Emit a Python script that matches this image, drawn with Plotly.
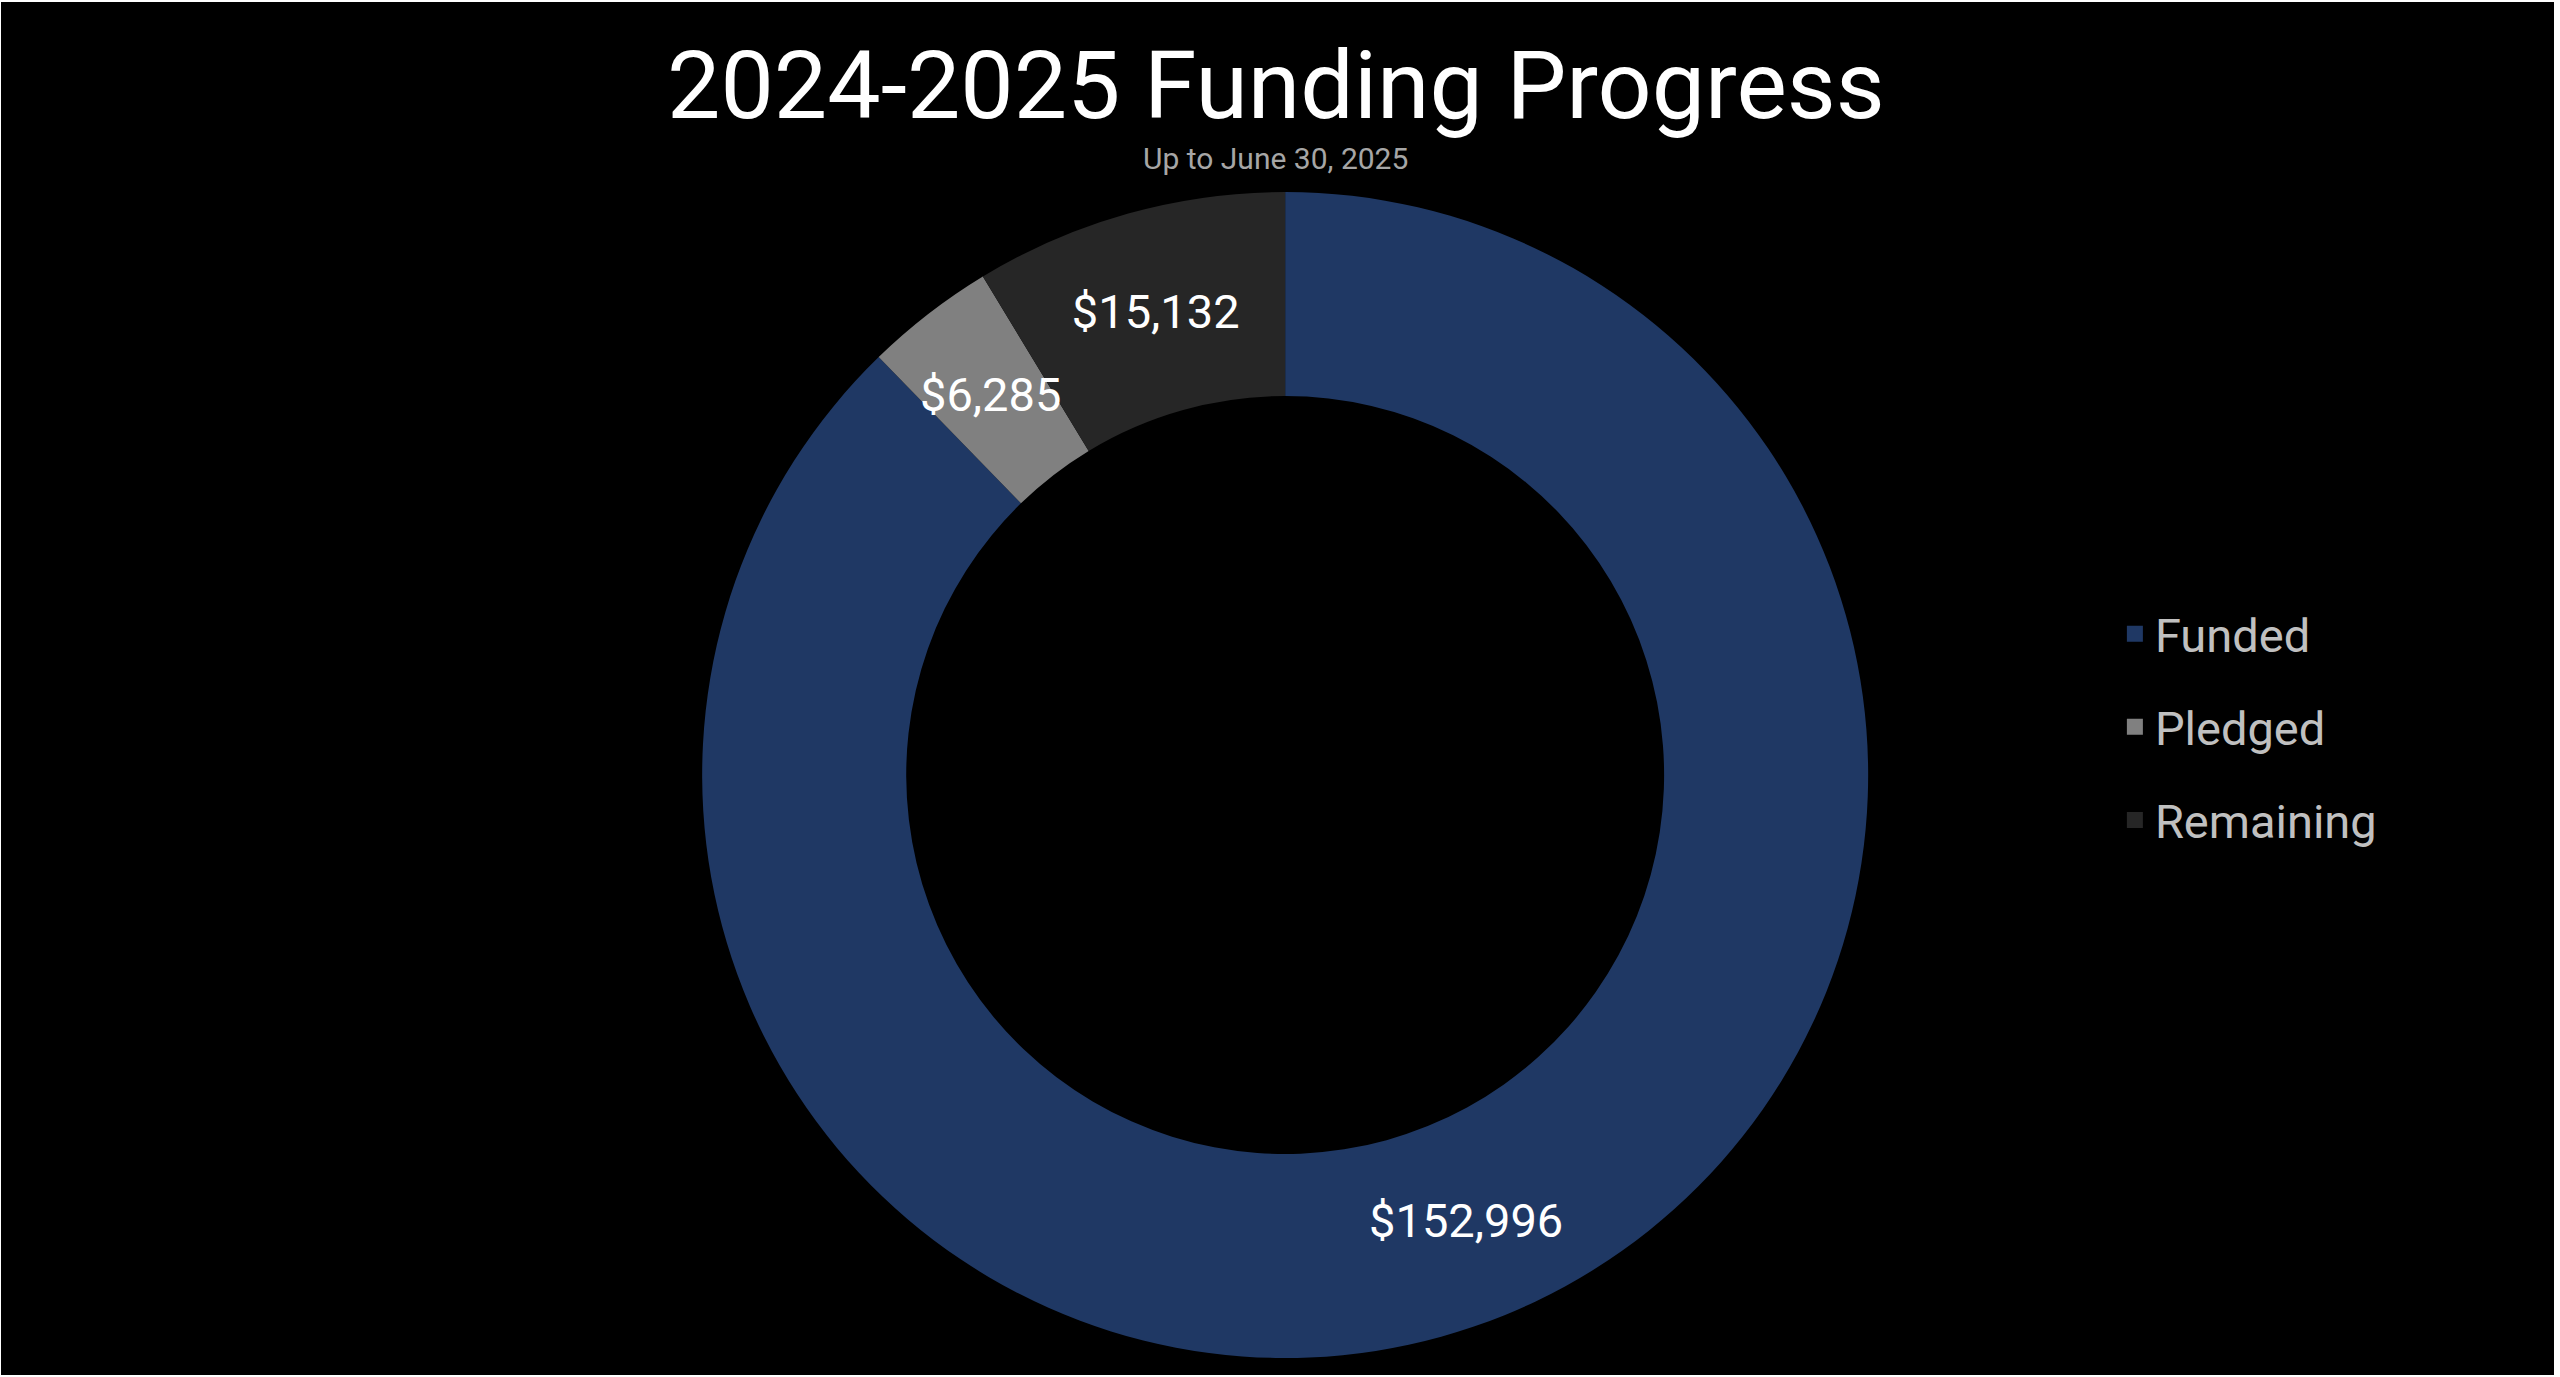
import math
import plotly.graph_objects as go

categories = ["Funded", "Pledged", "Remaining"]
values = [152996, 6285, 15132]
colors = ["#1f3864", "#808080", "#262626"]

title_text = "2024-2025 Funding Progress"
subtitle_text = "Up to June 30, 2025"

W, H = 2553, 1373
M_T, M_B = 190, 17
HOLE = 0.65
DOM_X = [0.2, 0.806]
LABEL_SIZE = 47

# Plotly places a label in a thin slice near the outer rim; the reference keeps
# every label on the middle of the ring, so thin slices get a text annotation
# placed from the data at the ring's mid-radius.
total = sum(values)
thin = [v / total < 0.05 for v in values]
textpos = ["none" if t else "inside" for t in thin]

fig = go.Figure()
fig.add_trace(go.Pie(
    labels=categories,
    values=values,
    hole=HOLE,
    sort=False,
    direction="clockwise",
    rotation=0,
    marker=dict(colors=colors, line=dict(width=0)),
    texttemplate="$%{value:,}",
    textposition=textpos,
    insidetextorientation="horizontal",
    textfont=dict(family="Roboto", size=LABEL_SIZE, color="#ffffff"),
    domain=dict(x=DOM_X, y=[0, 1]),
    showlegend=False,
    hoverinfo="label+value",
))

for name, col in zip(categories, colors):
    fig.add_trace(go.Scatter(
        x=[None], y=[None], mode="markers", name=name,
        legendgroup=name,
        marker=dict(symbol="square", size=16, color=col),
    ))

plot_w = W
plot_h = H - M_T - M_B
r_px = plot_h / 2
cx = (DOM_X[0] + DOM_X[1]) / 2
annotations = [dict(text=subtitle_text, x=0.4994, xref="paper",
                    y=(H - M_B - 156) / plot_h, yref="paper", yanchor="middle",
                    showarrow=False, font=dict(family="Roboto", size=30, color="#a6a6a6"))]
cum = 0
for v, t in zip(values, thin):
    mid = (cum + v / 2) / total * 2 * math.pi
    cum += v
    if t:
        rr = (1 + HOLE) / 2 * r_px
        annotations.append(dict(
            text=f"${v:,}", xref="paper", yref="paper",
            x=cx + rr * math.sin(mid) / plot_w,
            y=0.5 + rr * math.cos(mid) / plot_h,
            xanchor="center", yanchor="middle", showarrow=False,
            font=dict(family="Roboto", size=LABEL_SIZE, color="#ffffff")))

fig.update_layout(
    width=W, height=H,
    paper_bgcolor="#000000",
    plot_bgcolor="#000000",
    margin=dict(l=0, r=0, t=M_T, b=M_B, autoexpand=False),
    title=dict(text=title_text, x=0.4994, xanchor="center", y=1 - 83 / H, yanchor="middle",
               font=dict(family="Roboto", size=95, color="#ffffff")),
    annotations=annotations,
    xaxis=dict(visible=False),
    yaxis=dict(visible=False),
    legend=dict(x=0.828, xanchor="left", y=0.541, yanchor="middle",
                traceorder="grouped", tracegroupgap=29,
                font=dict(family="Roboto", size=47, color="#c0c0c0"),
                bgcolor="rgba(0,0,0,0)"),
    uniformtext=dict(minsize=LABEL_SIZE, mode="show"),
    showlegend=True,
)

fig.write_html("out.html", post_script="document.body.style.margin='2px 0 0 1px';document.body.style.background='#ffffff';document.body.style.overflow='hidden';")
